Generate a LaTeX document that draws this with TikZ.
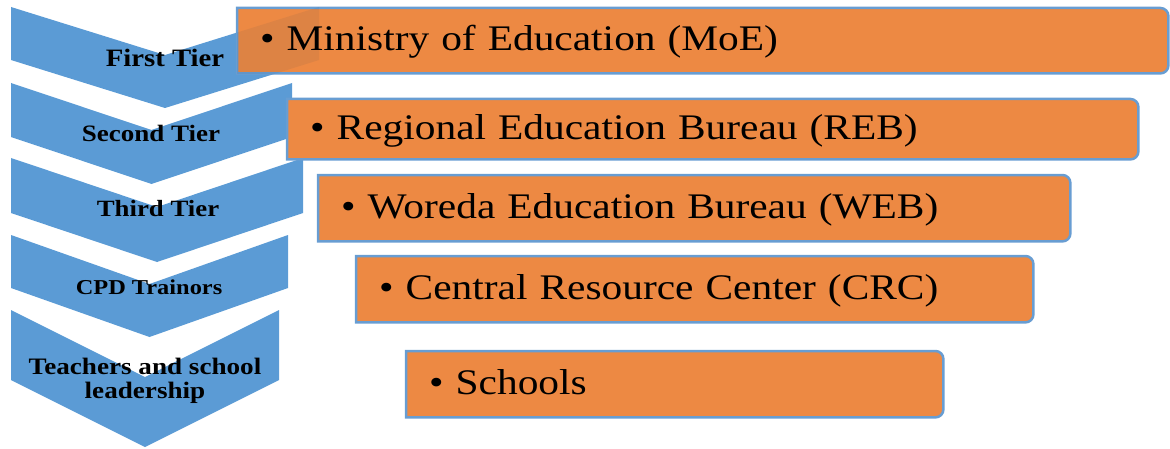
\documentclass[tikz,border=0pt]{standalone}
\usepackage{fontspec}
\setmainfont{Liberation Serif}
\newfontfamily\boxfont{Liberation Serif}[WordSpace=2,FakeStretch=1.15]
\newfontfamily\tierfont{Liberation Serif}[FakeStretch=1.15]
\usetikzlibrary{backgrounds}
\definecolor{tierblue}{RGB}{91,155,213}
\definecolor{boxorange}{RGB}{237,137,67}
\definecolor{boxedge}{RGB}{104,157,210}

\begin{document}
\begin{tikzpicture}[x=1pt,y=1pt,
    tier/.style={font=\tierfont\bfseries\fontsize{#1}{24}\selectfont, align=center, inner sep=0pt},
    level/.style={anchor=north west, font=\boxfont\fontsize{36}{40}\selectfont, inner xsep=23pt, inner ysep=0pt,
      text height=24pt, text depth=4pt, align=left},
    boxline/.style={draw=boxedge, line width=2.5pt, fill=boxorange}]
    \useasboundingbox (0,0) rectangle (1170,448);

    % Tier labels on the chevrons
    \node[tier=25] (first) at (165,390) {First Tier};
    \node[tier=23.5] (second) at (151,315) {Second Tier};
    \node[tier=23.3] (third) at (158,239) {Third Tier};
    \node[tier=21.2] (cpd) at (149,161) {CPD Trainors};
    \node[tier=23.6] (teach) at (145,67) {Teachers and school\\leadership};

    % Bulleted boxes
    \node[level, text width=885pt, minimum height=65pt] (moe) at (237,440) {• Ministry of Education (MoE)};
    \node[level, text width=805pt, minimum height=60pt] (reb) at (287,349) {• Regional Education Bureau (REB)};
    \node[level, text width=706pt, minimum height=66pt] (web) at (318,273) {• Woreda Education Bureau (WEB)};
    \node[level, text width=631pt, minimum height=66pt] (crc) at (356,192) {• Central Resource Center (CRC)};
    \node[level, text width=491pt, minimum height=66pt] (sch) at (406,97) {• Schools};

    \begin{scope}[on background layer]
      % Chevrons: top, side height, notch depth, right edge
      \foreach \top/\hgt/\dep/\rgt in {441/53/48/319, 365/54/47/292, 290/55/49/303, 213/53/49/288, 138/70/67/279}
        \fill[tierblue] (11,\top) -- ({(11+\rgt)/2},\top-\dep) -- (\rgt,\top) -- (\rgt,\top-\hgt)
          -- ({(11+\rgt)/2},\top-\hgt-\dep) -- (11,\top-\hgt) -- cycle;

      % Boxes with rounded right corners
      \foreach \n in {moe,reb,web,crc,sch}
        \path[boxline] (\n.south west) -- (\n.north west) -- ([xshift=-8pt]\n.north east)
          arc[start angle=90,end angle=0,radius=8pt] -- ([yshift=8pt]\n.south east)
          arc[start angle=0,end angle=-90,radius=8pt] -- cycle;

      % first chevron shows faintly through the first box
      \begin{scope}
        \clip (moe.south west) rectangle (moe.north east);
        \fill[tierblue!40!black, fill opacity=0.08] (11,441) -- (165,393) -- (319,441) -- (319,388) -- (165,340) -- (11,388) -- cycle;
      \end{scope}
    \end{scope}
  \end{tikzpicture}
\end{document}
